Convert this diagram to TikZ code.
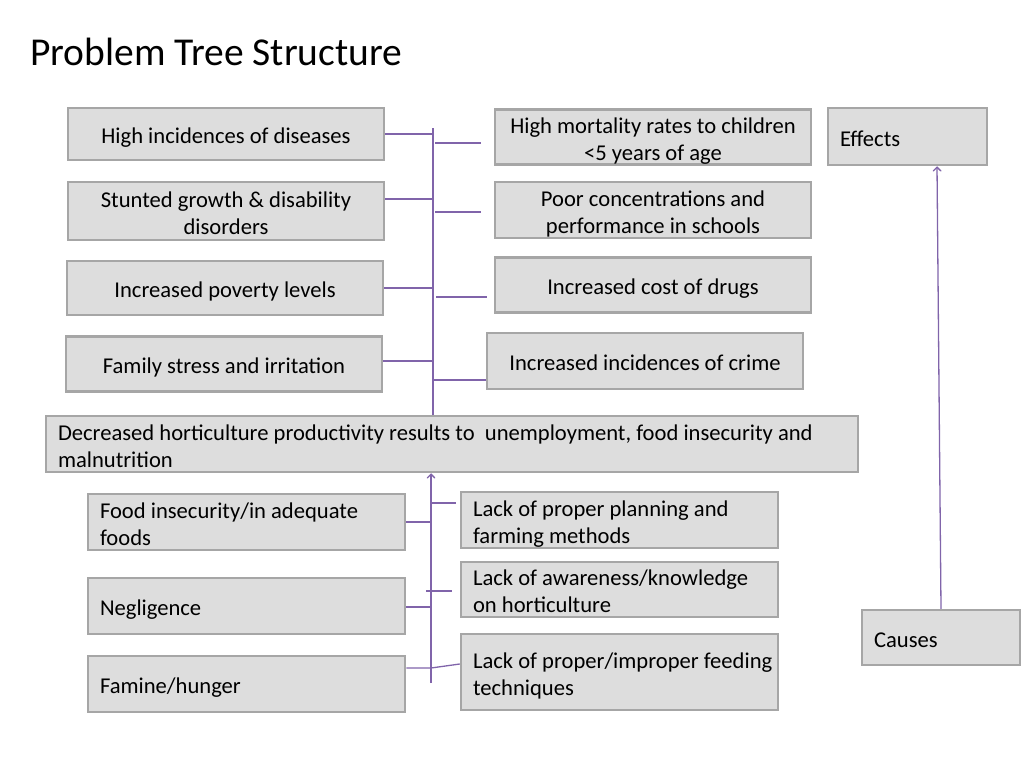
\documentclass[tikz,border=0pt]{standalone}
\usepackage{fontspec}
\setmainfont{Carlito}
\usetikzlibrary{arrows}

\definecolor{boxfill}{RGB}{221,221,221}
\definecolor{boxline}{RGB}{166,166,166}
\definecolor{treeline}{RGB}{128,100,170}

\newcommand{\topstrut}{\rule{0pt}{23.8pt}}
\newcommand{\botstrut}{\rule[-4pt]{0pt}{4pt}}

\tikzset{
  probbox/.style={draw=boxline, fill=boxfill, line width=2.5pt, inner xsep=12pt,
    inner ysep=0pt, font=\fontsize{22.6}{27}\selectfont,
    execute at begin node=\topstrut, execute at end node=\botstrut},
  centbox/.style={probbox, align=flush center, text width=292pt},
  leftbox/.style={probbox, align=flush left, text width=293pt},
  branch/.style={draw=treeline, line width=1.3pt},
}

\begin{document}
\begin{tikzpicture}[x=1pt,y=-1pt]
\useasboundingbox (0,0) rectangle (1024,768);
\node[anchor=base west, inner sep=0pt, font=\fontsize{39.5}{47}\selectfont] (title) at (30,65) {Problem Tree Structure};

% effects
\node[centbox, minimum height=52pt] (hid) at (226,134) {High incidences of diseases};
\node[centbox, minimum height=58pt] (stg) at (226,211) {Stunted growth \& disability\\disorders};
\node[centbox, minimum height=54pt] (pov) at (225,288) {Increased poverty levels};
\node[centbox, minimum height=55pt] (fam) at (224,364) {Family stress and irritation};
\node[centbox, minimum height=54pt] (mort) at (653,137) {High mortality rates to children\\<5 years of age};
\node[centbox, minimum height=56pt] (conc) at (653,210) {Poor concentrations and\\performance in schools};
\node[centbox, minimum height=55pt] (drug) at (653,285) {Increased cost of drugs};
\node[centbox, minimum height=56pt] (crim) at (645,361) {Increased incidences of crime};

% core problem
\node[probbox, align=flush left, text width=788pt, minimum height=56pt] (cen) at (452,444)
  {Decreased horticulture productivity results to\ \ unemployment, food insecurity and\\malnutrition};

% causes
\node[leftbox, minimum height=56pt] (food) at (246.5,522) {Food insecurity/in adequate\\foods};
\node[leftbox, minimum height=56pt] (negl) at (246.5,606) {Negligence};
\node[leftbox, minimum height=56pt] (famh) at (246.5,684) {Famine/hunger};
\node[leftbox, minimum height=56pt] (plan) at (619.5,520) {Lack of proper planning and\\farming methods};
\node[leftbox, minimum height=55pt] (awar) at (619.5,589.5) {Lack of awareness/knowledge\\on horticulture};
\node[leftbox, minimum height=76pt] (feed) at (619.5,672) {\mbox{Lack of proper/improper feeding}\\techniques};

% legend
\node[probbox, align=flush left, text width=135pt, minimum height=57pt] (eff) at (907.5,136.5) {Effects};
\node[probbox, align=flush left, text width=134pt, minimum height=55pt] (caus) at (941,637.5) {Causes};

% upper trunk
\coordinate (ttop) at (433,128);
\draw[branch] (ttop) -- (ttop |- cen.north);
\draw[branch] (hid.east) -- (hid.east -| ttop);
\draw[branch] ([yshift=12pt]stg.east) -- ([yshift=12pt]stg.east -| ttop);
\draw[branch] (pov.east) -- (pov.east -| ttop);
\draw[branch] ([yshift=3pt]fam.east) -- ([yshift=3pt]fam.east -| ttop);
\draw[branch] ([xshift=-13pt,yshift=-6pt]mort.west) -- ++(-46,0);
\draw[branch] ([xshift=-13pt,yshift=-2pt]conc.west) -- ++(-46,0);
\draw[branch] ([xshift=-7pt,yshift=-12pt]drug.west) -- ++(-51,0);
\draw[branch] ([yshift=-19pt]crim.west) -- ++(-52,0);

% lower trunk
\coordinate (bbot) at (431,683);
\draw[branch,->,>=angle 90] (bbot) -- (bbot |- cen.south);
\draw[branch] (food.east) -- (food.east -| bbot);
\draw[branch] ([yshift=-1pt]negl.east) -- ([yshift=-1pt]negl.east -| bbot);
\draw[branch] ([yshift=16pt]famh.east) -- ([yshift=16pt]famh.east -| bbot) -- ([yshift=8pt]feed.west);
\draw[branch] ([xshift=-4pt,yshift=17pt]plan.west) -- ++(-26,0);
\draw[branch] ([xshift=-8pt,yshift=-1.5pt]awar.west) -- ++(-26,0);

% causes to effects
\draw[branch,->,>=angle 90] (caus.north) -- ([xshift=29.5pt]eff.south);
\end{tikzpicture}
\end{document}
